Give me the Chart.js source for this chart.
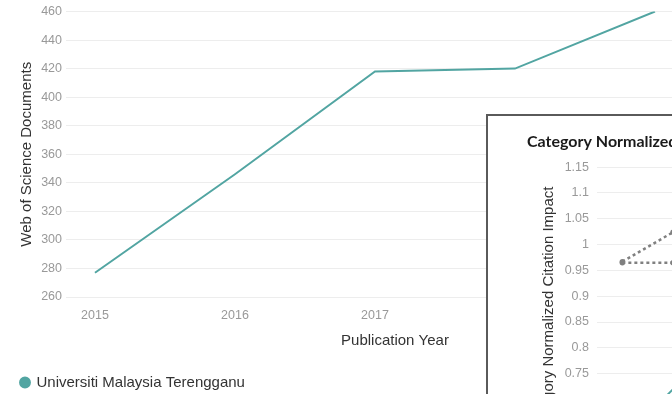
<!DOCTYPE html>
<html>
<head>
<meta charset="utf-8">
<script src="https://cdn.jsdelivr.net/npm/chart.js@4.4.1/dist/chart.umd.min.js"></script>
<style>
  html, body { margin: 0; padding: 0; background: #fff; }
  body { width: 672px; height: 394px; overflow: hidden; position: relative; }
  #main { position: absolute; left: 0; top: 0; }
  #insetBox { position: absolute; left: 486px; top: 114px; width: 369px; height: 420px;
    border: 2px solid #5a5a5a; background: #fff; }
  #inset { display: block; }
</style>
</head>
<body>
<canvas id="main" width="740" height="400"></canvas>
<div id="insetBox"><canvas id="inset" width="369" height="420"></canvas></div>
<script>
// main chart data
const years = [2015, 2016, 2017, 2018, 2019];
const wosDocs = [277, 346, 418, 420, 460];
const yTicks = [260, 280, 300, 320, 340, 360, 380, 400, 420, 440, 460];

// inset chart data (only the left part is visible)
const insetYears = ["2015", "2016", "2017", "2018", "2019"];
const cnciUni = [0.62, 0.72, 0.85, 0.95, 1.0];
const cnciBaseA = [0.967, 1.024, 1.05, 1.04, 1.06];
const cnciBaseB = [0.965, 0.965, 0.97, 0.96, 0.97];
const insetTicks = [0.6, 0.65, 0.7, 0.75, 0.8, 0.85, 0.9, 0.95, 1, 1.05, 1.1, 1.15];

const teal = "#52a5a2";
const tickFont = { family: "'Liberation Sans', Arial, sans-serif", size: 12.5 };
const titleFont = { family: "'Liberation Sans', Arial, sans-serif", size: 15 };

new Chart(document.getElementById("main"), {
  type: "line",
  data: {
    datasets: [{
      label: "Universiti Malaysia Terengganu",
      data: years.map((y, i) => ({ x: y, y: wosDocs[i] })),
      borderColor: teal,
      backgroundColor: teal,
      borderWidth: 2,
      pointRadius: 0,
      tension: 0
    }]
  },
  options: {
    responsive: false,
    animation: false,
    layout: { padding: { left: 11, top: 10, right: 16, bottom: 0 } },
    plugins: {
      tooltip: { enabled: false },
      legend: {
        position: "bottom",
        align: "start",
        labels: {
          usePointStyle: true,
          pointStyle: "circle",
          boxWidth: 8,
          boxHeight: 7,
          color: "#333",
          font: titleFont
        }
      }
    },
    scales: {
      x: {
        type: "linear",
        min: 2014.793,
        max: 2019.493,
        afterFit: (s) => { s.height = 68; },
        grid: { display: false },
        border: { display: false },
        ticks: {
          stepSize: 1,
          includeBounds: false,
          padding: 3,
          color: "#999",
          font: tickFont,
          callback: (v) => String(v)
        },
        title: { display: true, text: "Publication Year", color: "#333", font: titleFont,
          padding: { top: 0, bottom: 15 } }
      },
      y: {
        min: 260,
        max: 460,
        afterFit: (s) => { s.width = 55; },
        afterBuildTicks: (s) => { s.ticks = yTicks.map(v => ({ value: v })); },
        grid: { color: "#ededed", drawTicks: false },
        border: { display: false },
        ticks: { padding: 4, color: "#999", font: tickFont },
        title: { display: true, text: "Web of Science Documents", color: "#333", font: titleFont,
          padding: { top: 7, bottom: 0 } }
      }
    }
  }
});

new Chart(document.getElementById("inset"), {
  type: "line",
  data: {
    labels: insetYears,
    datasets: [
      {
        label: "Universiti Malaysia Terengganu",
        data: cnciUni,
        borderColor: teal,
        backgroundColor: teal,
        borderWidth: 2,
        pointRadius: 0
      },
      {
        label: "Baseline 1",
        data: cnciBaseA,
        borderColor: "#808080",
        backgroundColor: "#808080",
        borderWidth: 2.5,
        borderDash: [3, 3],
        pointRadius: 1.5
      },
      {
        label: "Baseline 2",
        data: cnciBaseB,
        borderColor: "#808080",
        backgroundColor: "#808080",
        borderWidth: 2.5,
        borderDash: [3, 3],
        pointRadius: 1.5
      }
    ]
  },
  options: {
    responsive: false,
    animation: false,
    layout: { padding: { left: 39, top: 7, right: 0, bottom: 16 } },
    plugins: {
      tooltip: { enabled: false },
      legend: { display: false },
      title: {
        display: true,
        align: "start",
        text: "Category Normalized Citation Impact",
        color: "#1a1a1a",
        font: { family: "Lato, 'Noto Sans', sans-serif", size: 16, weight: "bold" },
        padding: { top: 9, bottom: 16 }
      }
    },
    scales: {
      x: {
        offset: true,
        grid: { display: false },
        border: { display: false },
        ticks: { padding: 10, color: "#999", font: tickFont },
        title: { display: true, text: "Publication Year", color: "#333", font: titleFont }
      },
      y: {
        min: 0.6,
        max: 1.15,
        afterFit: (s) => { s.width = 70; },
        afterBuildTicks: (s) => { s.ticks = insetTicks.map(v => ({ value: v })); },
        grid: { color: "#ededed", drawTicks: false },
        border: { display: false },
        ticks: { padding: 8, color: "#999", font: tickFont, callback: (v) => String(v) },
        title: { display: true, text: "Category Normalized Citation Impact", color: "#333", font: titleFont,
          padding: { top: 13, bottom: 0 } }
      }
    }
  }
});
</script>
</body>
</html>
